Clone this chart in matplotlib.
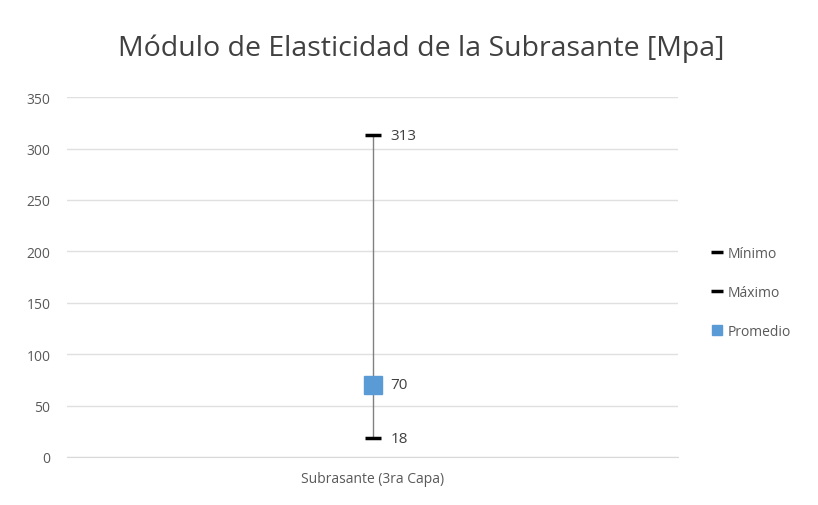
import matplotlib
matplotlib.use("Agg")
import matplotlib.pyplot as plt
from matplotlib.lines import Line2D

categories = ["Subrasante (3ra Capa)"]
minimo = [18]
maximo = [313]
promedio = [70]
yticks = [0, 50, 100, 150, 200, 250, 300, 350]

plt.rcParams['font.family'] = ['Open Sans', 'DejaVu Sans']
fig = plt.figure(figsize=(8.18, 5.06), dpi=100)
ax = fig.add_axes([0.082, 0.095, 0.747, 0.711])

xs = list(range(len(categories)))
for x, lo, hi in zip(xs, minimo, maximo):
    ax.plot([x, x], [lo, hi], color='#808080', lw=1, zorder=1)
ax.plot(xs, minimo, linestyle='none', marker='_', markersize=11, mew=2.5, color='black', zorder=3)
ax.plot(xs, maximo, linestyle='none', marker='_', markersize=11, mew=2.5, color='black', zorder=3)
ax.plot(xs, promedio, linestyle='none', marker='s', markersize=13, color='#5b9bd5', zorder=4)

for arr in (maximo, promedio, minimo):
    for x, v in zip(xs, arr):
        ax.annotate(str(v), (x, v), xytext=(13, 0), textcoords='offset points',
                    va='center', ha='left', fontsize=11, color='#404040')

ax.set_xlim(-0.5, len(categories) - 0.5)
ax.set_ylim(0, 350)
ax.set_yticks(yticks)
ax.set_xticks(xs)
ax.set_xticklabels(categories)
ax.tick_params(axis='both', length=0, labelsize=10, colors='#595959', pad=12)
ax.tick_params(axis='x', pad=10)
ax.grid(axis='y', color='#e0e0e0', lw=1)
ax.set_axisbelow(True)
for s in ['top', 'right', 'left']:
    ax.spines[s].set_visible(False)
ax.spines['bottom'].set_color('#d9d9d9')

fig.text(0.515, 0.903, "Módulo de Elasticidad de la Subrasante [Mpa]", ha='center', va='center',
         fontsize=20.5, color='#404040')

handles = [
    Line2D([], [], linestyle='none', marker='_', markersize=9, mew=2.5, color='black'),
    Line2D([], [], linestyle='none', marker='_', markersize=9, mew=2.5, color='black'),
    Line2D([], [], linestyle='none', marker='s', markersize=7, color='#5b9bd5'),
]
fig.legend(handles, ["Mínimo", "Máximo", "Promedio"], loc='center left',
           bbox_to_anchor=(0.855, 0.42), frameon=False, fontsize=10,
           labelcolor='#595959', handlelength=0.8, handletextpad=0.3, labelspacing=1.75)

fig.savefig("out.png", dpi=100)
